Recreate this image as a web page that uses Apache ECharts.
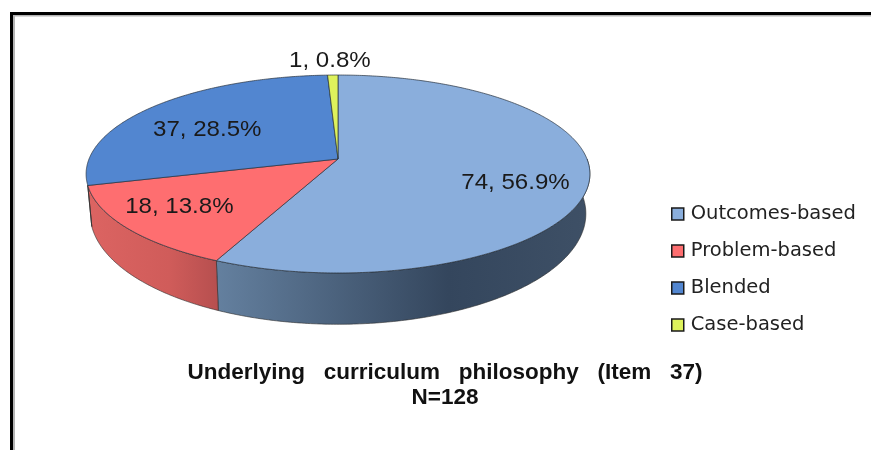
<!DOCTYPE html>
<html>
<head>
<meta charset="utf-8">
<title>Underlying curriculum philosophy</title>
<style>
  html, body { margin: 0; padding: 0; background: #fff; }
  #main { width: 871px; height: 450px; }
</style>
<script src="https://cdn.jsdelivr.net/npm/echarts@6/dist/echarts.min.js"></script>
</head>
<body>
<div id="main"></div>
<script>
// values
const categories = ['Outcomes-based', 'Problem-based', 'Blended', 'Case-based'];
const counts = [74, 18, 37, 1];
const titleLines = ['Underlying   curriculum   philosophy   (Item   37)', 'N=128'];

// styles
const topColors = ['#8aaedc', '#fe6e70', '#5286d0', '#def25c'];
const sideColors = [
  ['#64809f', '#34465d', '#3e5066'],
  ['#dc6462', '#d05c5a', '#b64f4f'],
  ['#3f68a2', '#3f68a2', '#3f68a2'],
  ['#a8b846', '#a8b846', '#a8b846'],
];
const labelRadius = [0.76, 0.82, 0.7, 1.2];
const labelOffset = [[-12, 8], [11, -8], [2, 9], [-2, 0]];

const total = counts.reduce((a, b) => a + b, 0);

// 透视投影：把单位圆投到屏幕上
const persp = 0.1515;
const topDisc = { cx: 338, cy: 159, a: 249, b: 96.7 };
const bottomDisc = { cx: 338, cy: 197, a: 245, b: 108 };
const project = (disc, theta, r) => {
  const u = Math.sin(theta) * r;
  const v = -Math.cos(theta) * r;
  const w = 1 - persp * v;
  return [disc.cx + (disc.a * u) / w, disc.cy + (disc.b * v) / w];
};
const rad = (share) => share * 2 * Math.PI;
const startShare = (idx) => counts.slice(0, idx).reduce((a, b) => a + b, 0) / total;

const arc = (disc, from, to) => {
  const pts = [];
  const n = Math.max(2, Math.ceil(Math.abs(to - from) / 0.01));
  for (let i = 0; i <= n; i++) {
    pts.push(project(disc, from + ((to - from) * i) / n, 1));
  }
  return pts;
};

// 侧面可见的角度范围
const sideMin = Math.PI / 2;
const sideMax = rad(0.708);

const renderSlice = (idx) => (params, api) => {
  const share = api.value(0) / total;
  const from = rad(startShare(idx));
  const to = from + rad(share);
  const children = [];

  const sideFrom = Math.max(from, sideMin);
  const sideTo = Math.min(to, sideMax);
  if (sideTo > sideFrom) {
    const points = arc(topDisc, sideFrom, sideTo).concat(arc(bottomDisc, sideFrom, sideTo).reverse());
    children.push({
      type: 'polygon',
      z2: 1,
      shape: { points },
      style: {
        fill: new echarts.graphic.LinearGradient(0, 0, 1, 0, [
          { offset: 0, color: sideColors[idx][0] },
          { offset: 0.62, color: sideColors[idx][1] },
          { offset: 1, color: sideColors[idx][2] },
        ]),
        stroke: '#2b2b2b',
        lineWidth: 0.6,
      },
    });
  }

  // 顶面
  children.push({
    type: 'polygon',
    z2: 2,
    shape: { points: [[topDisc.cx, topDisc.cy]].concat(arc(topDisc, from, to)) },
    style: { fill: topColors[idx], stroke: '#26303c', lineWidth: 0.7 },
  });

  // 数值标签，原图文字被横向拉宽
  const pos = project(topDisc, (from + to) / 2, labelRadius[idx]);
  children.push({
    type: 'text',
    z2: 3,
    x: pos[0] + labelOffset[idx][0],
    y: pos[1] + labelOffset[idx][1],
    scaleX: 1.12,
    style: {
      text: `${api.value(0)}, ${(share * 100).toFixed(1)}%`,
      font: '21.5px "Liberation Sans", Arial, sans-serif',
      fill: '#1a1a1a',
      align: 'center',
      verticalAlign: 'middle',
    },
  });
  return { type: 'group', children };
};

const myChart = echarts.init(document.getElementById('main'), null, { renderer: 'canvas' });
myChart.setOption({
  animation: false,
  backgroundColor: '#fff',
  title: {
    text: titleLines.join('\n'),
    left: 440,
    top: 355,
    textAlign: 'center',
    textStyle: {
      fontFamily: '"Liberation Sans", Arial, sans-serif',
      fontSize: 22.5,
      fontWeight: 'bold',
      color: '#111',
      lineHeight: 25,
    },
  },
  legend: {
    orient: 'vertical',
    left: 671,
    top: 203,
    padding: 0,
    itemWidth: 12,
    itemHeight: 12,
    itemGap: 15,
    icon: 'rect',
    data: categories,
    selectedMode: false,
    itemStyle: { borderColor: '#1a1a1a', borderWidth: 1.5 },
    textStyle: {
      fontFamily: '"DejaVu Sans", sans-serif',
      fontSize: 19.5,
      color: '#222',
      padding: [0, 0, 0, 2],
      lineHeight: 22,
    },
  },
  graphic: [
    {
      type: 'rect',
      z: 0,
      shape: { x: 14, y: 15.5, width: 900, height: 500 },
      style: { fill: 'none', stroke: '#b4b4b4', lineWidth: 2 },
    },
    {
      type: 'rect',
      z: 1,
      shape: { x: 11.5, y: 13.5, width: 900, height: 500 },
      style: { fill: 'none', stroke: '#000', lineWidth: 3 },
    },
  ],
  series: categories.map((name, idx) => ({
    type: 'custom',
    name,
    coordinateSystem: 'none',
    itemStyle: { color: topColors[idx] },
    renderItem: renderSlice(idx),
    data: [[counts[idx]]],
  })),
});
</script>
</body>
</html>
